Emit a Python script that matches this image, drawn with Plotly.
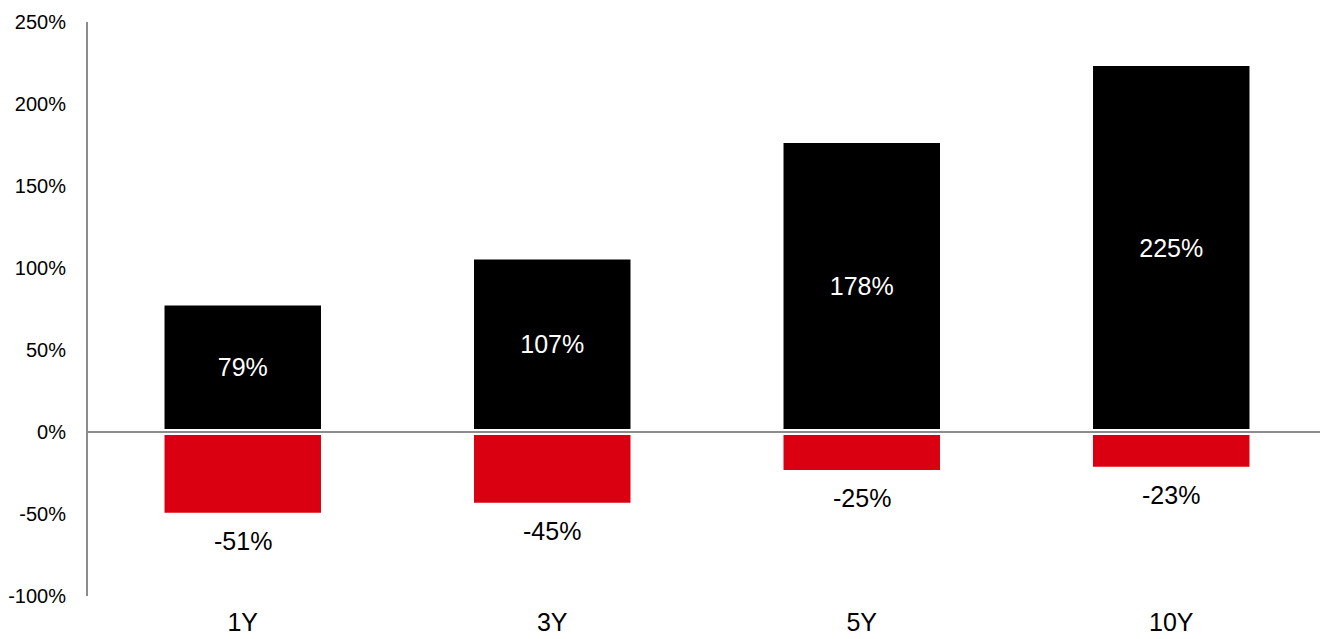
import plotly.graph_objects as go

categories = ["1Y", "3Y", "5Y", "10Y"]
positive = [79, 107, 178, 225]
negative = [-51, -45, -25, -23]
y_ticks = [-100, -50, 0, 50, 100, 150, 200, 250]

FONT = "Liberation Sans, Arial, sans-serif"

fig = go.Figure()
fig.add_trace(go.Bar(
    x=categories, y=positive, width=0.525,
    marker=dict(color="#000000", line=dict(color="#ffffff", width=6)),
    text=[f"{v}%" for v in positive], textposition="inside",
    insidetextanchor="middle",
    textfont=dict(color="#ffffff", size=25, family=FONT),
    hoverinfo="skip",
))
fig.add_trace(go.Bar(
    x=categories, y=negative, width=0.525,
    marker=dict(color="#DA0011", line=dict(color="#ffffff", width=6)),
    hoverinfo="skip",
))
for c, v in zip(categories, negative):
    fig.add_annotation(x=c, y=v, text=f"{v}%", showarrow=False,
                       yanchor="top", yshift=-9,
                       font=dict(color="#000000", size=25, family=FONT))

fig.update_layout(
    width=1320, height=631,
    margin=dict(l=80, r=2, t=14, b=43),
    barmode="relative",
    showlegend=False,
    plot_bgcolor="#ffffff", paper_bgcolor="#ffffff",
    font=dict(family=FONT, color="#000000"),
)
fig.update_yaxes(
    range=[-100, 250], tickvals=y_ticks,
    ticktext=[f"{v}%" for v in y_ticks],
    showgrid=False, zeroline=True, zerolinecolor="#8c8c8c", zerolinewidth=2,
    zerolinelayer="above traces",
    showline=True, linecolor="#8c8c8c", linewidth=2,
    ticks="", ticklabelstandoff=16, automargin=False,
    layer="above traces",
    tickfont=dict(size=20, family=FONT, color="#000000"),
)
fig.update_xaxes(
    showgrid=False, showline=False, ticks="",
    ticklabelstandoff=9, automargin=False,
    tickfont=dict(size=25, family=FONT, color="#000000"),
)
fig.write_html("out.html")
